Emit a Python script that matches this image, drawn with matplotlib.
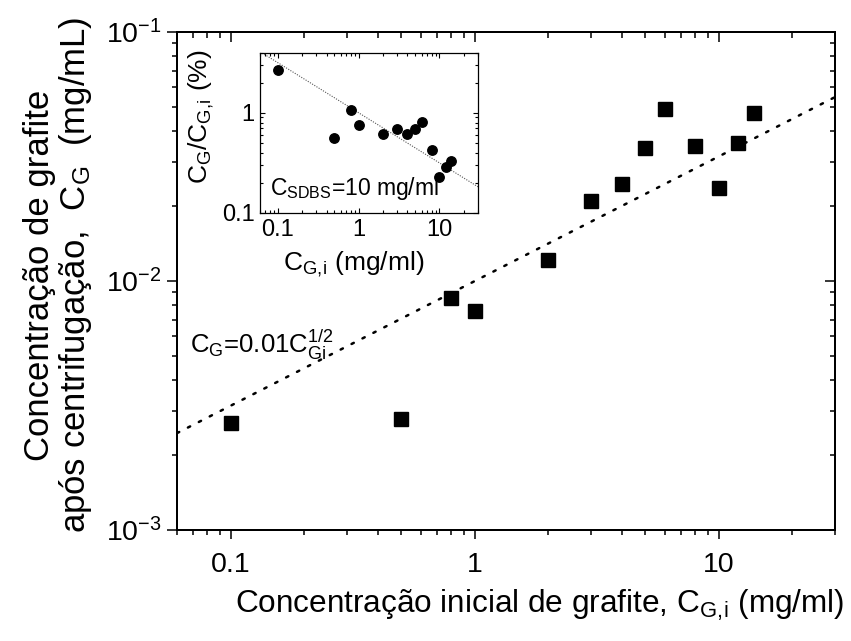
import matplotlib
matplotlib.use('Agg')
import matplotlib.pyplot as plt
import numpy as np
from matplotlib.ticker import LogLocator, FixedLocator, FixedFormatter, NullFormatter

plt.rcParams['font.family'] = ['Liberation Sans', 'DejaVu Sans']
plt.rcParams['mathtext.fontset'] = 'custom'
plt.rcParams['mathtext.rm'] = 'Liberation Sans'
plt.rcParams['mathtext.it'] = 'Liberation Sans:italic'
plt.rcParams['mathtext.bf'] = 'Liberation Sans:bold'

# ---- data ----
c_gi = [0.1, 0.5, 0.8, 1, 2, 3, 4, 5, 6, 8, 10, 12, 14]
c_g = [0.00269, 0.00279, 0.00853, 0.00757, 0.01216, 0.0209, 0.0245,
       0.0342, 0.0491, 0.0349, 0.0236, 0.0359, 0.0474]
ratio_pct = [2.7, 0.56, 1.07, 0.76, 0.61, 0.69, 0.61, 0.69, 0.81, 0.43, 0.23, 0.29, 0.33]
fit_x = [0.06, 30]
fit_coef = 0.01
x_ticks = [0.1, 1, 10]
x_ticklabels = ['0.1', '1', '10']
inset_y_ticks = [0.1, 1]
inset_y_ticklabels = ['0.1', '1']

fig = plt.figure(figsize=(8.51, 6.41), dpi=100)
W, H = 851, 641
L, R, T, B = 177, 835, 32, 530
ax = fig.add_axes([L / W, 1 - B / H, (R - L) / W, (B - T) / H])
ax.set_xscale('log')
ax.set_yscale('log')
ax.set_xlim(0.06, 30)
ax.set_ylim(1e-3, 1e-1)

fx = np.array(fit_x)
ax.plot(fx, fit_coef * np.sqrt(fx), color='black', lw=1.8,
        linestyle=(0, (1, 3.9)), dash_capstyle='round')
ax.plot(c_gi, c_g, 's', color='black', ms=10.3, mec='black')

ax.xaxis.set_major_locator(FixedLocator(x_ticks))
ax.xaxis.set_major_formatter(FixedFormatter(x_ticklabels))
ax.xaxis.set_minor_locator(LogLocator(base=10, subs=np.arange(2, 10)))
ax.xaxis.set_minor_formatter(NullFormatter())
ax.yaxis.set_major_locator(LogLocator(base=10, numticks=10))
ax.yaxis.set_minor_locator(LogLocator(base=10, subs=np.arange(2, 10), numticks=10))
ax.yaxis.set_minor_formatter(NullFormatter())

ax.tick_params(which='both', direction='out', top=False, right=False,
               labelsize=20.5, width=1.1)
ax.tick_params(axis='x', which='major', length=6.5, pad=9)
ax.tick_params(axis='y', which='major', length=7, pad=4)
ax.tick_params(which='minor', length=3.3)
for s in ax.spines.values():
    s.set_linewidth(1.3)

# mirrored axes with inward ticks on top and right
axr = ax.twinx()
axr.set_yscale('log')
axr.set_ylim(ax.get_ylim())
axr.yaxis.set_major_locator(LogLocator(base=10, numticks=10))
axr.yaxis.set_minor_locator(LogLocator(base=10, subs=np.arange(2, 10), numticks=10))
axr.tick_params(which='both', direction='in', labelright=False, width=1.1)
axr.tick_params(which='major', length=7)
axr.tick_params(which='minor', length=3.5)
axt = ax.twiny()
axt.set_xscale('log')
axt.set_xlim(ax.get_xlim())
axt.xaxis.set_major_locator(FixedLocator(x_ticks))
axt.xaxis.set_minor_locator(LogLocator(base=10, subs=np.arange(2, 10)))
axt.tick_params(which='both', direction='in', labeltop=False, width=1.1)
axt.tick_params(which='major', length=7)
axt.tick_params(which='minor', length=4)
for a in (axr, axt):
    for s in a.spines.values():
        s.set_linewidth(1.3)

ax.set_ylabel('Concentração de grafite\napós centrifugação,  $\\mathrm{C_G}$  (mg/mL)',
              fontsize=25, linespacing=1.05)
ax.yaxis.set_label_coords(-0.126, 0.512)
fig.text(540 / W, 1 - 605 / H,
         'Concentração inicial de grafite, $\\mathrm{C_{G,\\!i}}$ (mg/ml)',
         fontsize=22.7, ha='center', va='center')

ax.text((190 - L) / (R - L), (B - 353) / (B - T),
        '$\\mathrm{C_G}$=0.01$\\mathrm{C_{Gi}^{1/2}}$',
        transform=ax.transAxes, fontsize=18.5, va='baseline', ha='left')

# ---- inset ----
iL, iR, iT, iB = 260, 478, 52.5, 213
ins = fig.add_axes([iL / W, 1 - iB / H, (iR - iL) / W, (iB - iT) / H])
ins.set_xscale('log')
ins.set_yscale('log')
ins.set_xlim(0.06, 30)
ins.set_ylim(0.1, 4)
ins.plot(fx, 100 * fit_coef / np.sqrt(fx), color='#555555', lw=0.8,
         linestyle=(0, (1, 1.3)))
ins.plot(c_gi, ratio_pct, 'o', color='black', ms=6.8)
ins.xaxis.set_major_locator(FixedLocator(x_ticks))
ins.xaxis.set_major_formatter(FixedFormatter(x_ticklabels))
ins.xaxis.set_minor_locator(LogLocator(base=10, subs=np.arange(2, 10)))
ins.xaxis.set_minor_formatter(NullFormatter())
ins.yaxis.set_major_locator(FixedLocator(inset_y_ticks))
ins.yaxis.set_major_formatter(FixedFormatter(inset_y_ticklabels))
ins.yaxis.set_minor_locator(LogLocator(base=10, subs=np.arange(2, 10), numticks=10))
ins.yaxis.set_minor_formatter(NullFormatter())
ins.tick_params(which='both', direction='in', top=True, right=True,
                labelsize=17, width=0.8)
ins.tick_params(which='major', length=3.5, pad=4)
ins.tick_params(which='minor', length=2)
for s in ins.spines.values():
    s.set_linewidth(0.9)
ins.set_ylabel('$\\mathrm{C_G/C_{G,\\!i}}$ (%)', fontsize=19)
ins.yaxis.set_label_coords(-0.2, 0.6)
ins.set_xlabel('$\\mathrm{C_{G,\\!i}}$ (mg/ml)', fontsize=19)
ins.xaxis.set_label_coords(0.43, -0.23)
ins.text((270 - iL) / (iR - iL), (iB - 195) / (iB - iT),
         '$\\mathrm{C_{SDBS}}$=10 mg/ml', transform=ins.transAxes,
         fontsize=16.5, va='baseline', ha='left')

fig.savefig('out.png', dpi=100)
